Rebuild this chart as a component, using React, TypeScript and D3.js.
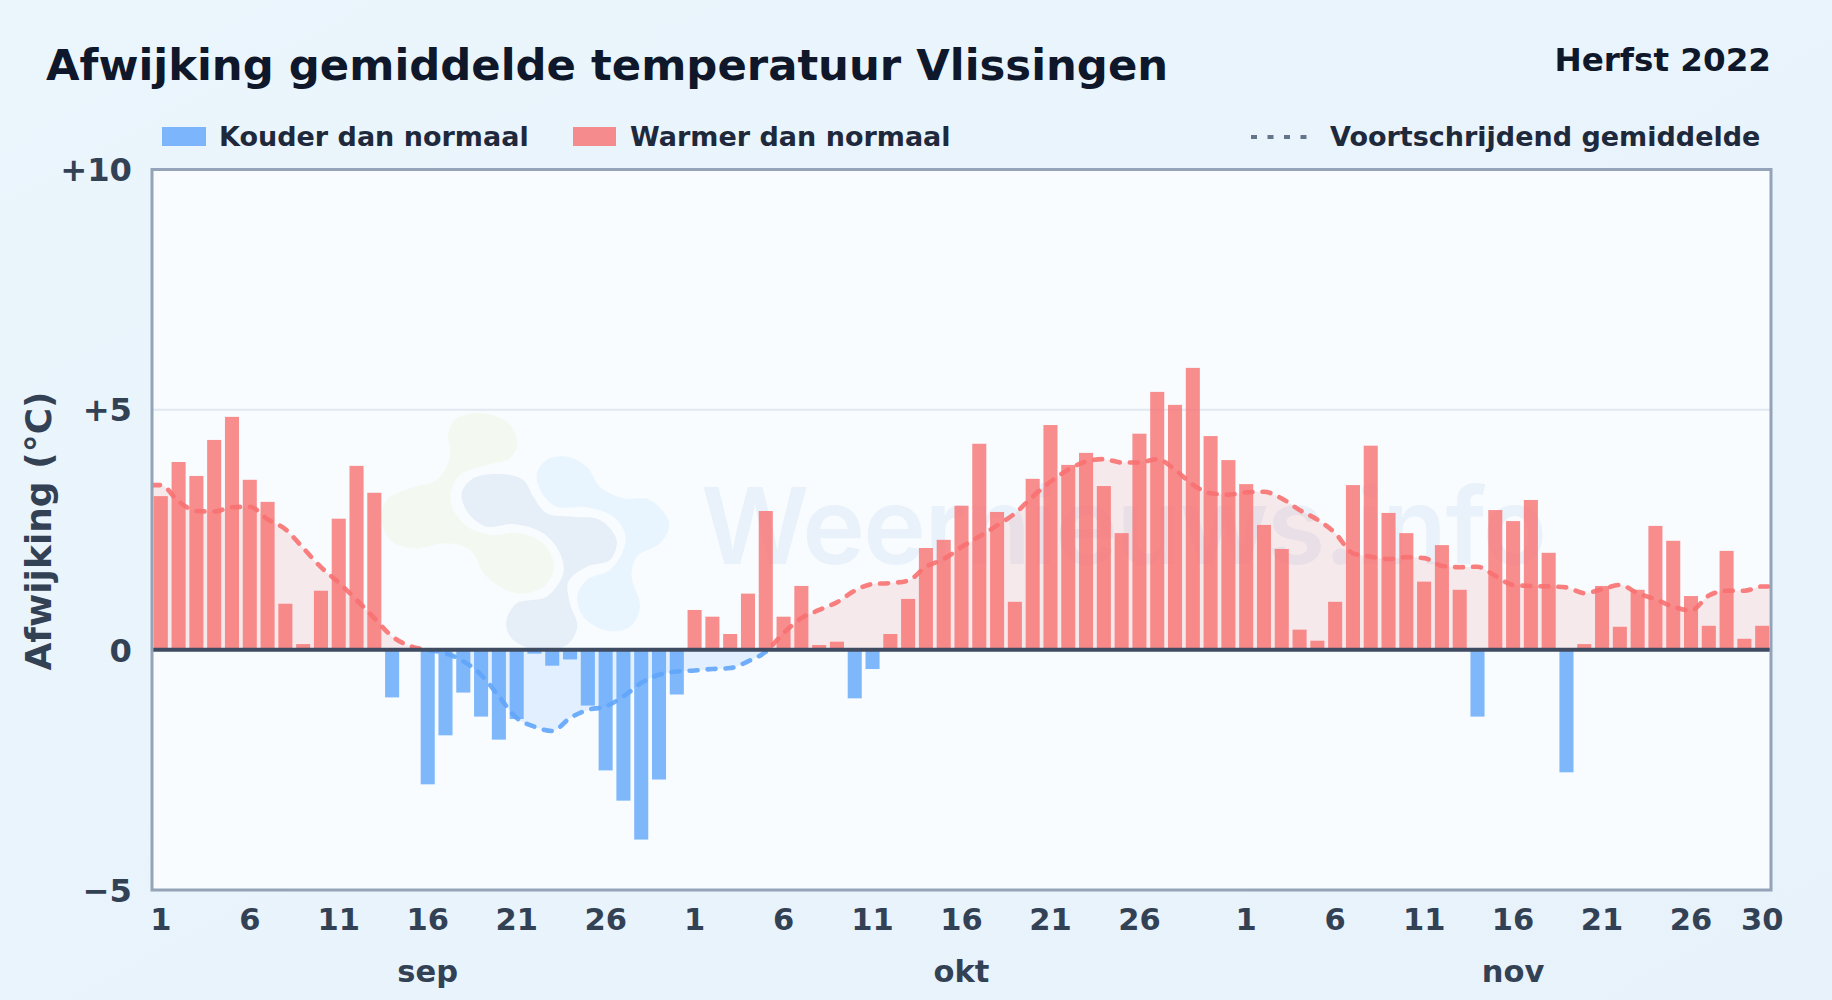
import { useEffect, useRef } from 'react';
import * as d3 from 'd3';

const TITLE = 'Afwijking gemiddelde temperatuur Vlissingen';
const SUBTITLE = 'Herfst 2022';
const Y_LABEL = 'Afwijking (°C)';
const WATERMARK = 'Weernieuws.info';

const MONTHS = ['sep', 'okt', 'nov'];
const MONTH_LENGTHS = [30, 31, 30];
const DAY_TICKS = [1, 6, 11, 16, 21, 26];
const Y_TICKS = [-5, 0, 5, 10];

const ANOMALY_SEP = [3.2, 3.91, 3.62, 4.37, 4.85, 3.54, 3.08, 0.96, 0.12, 1.23, 2.73, 3.83, 3.27, -0.99, 0, -2.8, -1.78, -0.89, -1.39, -1.87, -1.44, -0.08, -0.33, -0.2, -1.16, -2.51, -3.14, -3.95, -2.7, -0.93];
const ANOMALY_OKT = [0.83, 0.69, 0.33, 1.17, 2.89, 0.69, 1.33, 0.1, 0.17, -1.01, -0.4, 0.33, 1.06, 2.12, 2.29, 3.0, 4.29, 2.87, 1.0, 3.56, 4.68, 3.85, 4.1, 3.41, 2.43, 4.5, 5.37, 5.1, 5.87, 4.45, 3.95];
const ANOMALY_NOV = [3.45, 2.6, 2.1, 0.42, 0.19, 1.0, 3.43, 4.25, 2.85, 2.43, 1.42, 2.18, 1.25, -1.39, 2.91, 2.68, 3.12, 2.02, -2.55, 0.12, 1.33, 0.48, 1.25, 2.58, 2.27, 1.12, 0.5, 2.06, 0.23, 0.5];

const AVG_SEP = [3.43, 3.09, 2.89, 2.88, 2.97, 2.98, 2.72, 2.51, 2.12, 1.72, 1.4, 1.04, 0.66, 0.28, 0.08, 0, -0.07, -0.24, -0.52, -0.97, -1.42, -1.6, -1.69, -1.42, -1.25, -1.18, -0.97, -0.69, -0.52, -0.45];
const AVG_OKT = [-0.43, -0.4, -0.38, -0.24, -0.04, 0.35, 0.66, 0.83, 0.99, 1.23, 1.37, 1.39, 1.44, 1.73, 1.89, 2.14, 2.36, 2.59, 2.84, 3.19, 3.5, 3.75, 3.92, 3.97, 3.9, 3.9, 3.97, 3.75, 3.44, 3.26, 3.23];
const AVG_NOV = [3.28, 3.29, 3.15, 2.91, 2.71, 2.43, 2.01, 1.94, 1.89, 1.93, 1.91, 1.75, 1.72, 1.73, 1.54, 1.35, 1.33, 1.32, 1.3, 1.18, 1.26, 1.35, 1.18, 1.05, 0.9, 0.82, 1.13, 1.23, 1.23, 1.32];

// watermark logo outlines, traced by hand
const LOGO_GREEN: [number, number][] = [[205, 100], [210, 170], [170, 240], [90, 265], [20, 300], [5, 360], [30, 420], [100, 445], [200, 430], [270, 450], [320, 530], [410, 580], [490, 560], [522, 500], [490, 430], [410, 398], [340, 405], [270, 385], [220, 330], [212, 280], [240, 225], [320, 195], [390, 175], [412, 125], [380, 65], [300, 40], [230, 55]];
const LOGO_DARK: [number, number][] = [[245, 280], [280, 235], [360, 222], [430, 240], [460, 290], [500, 340], [580, 350], [660, 360], [710, 420], [690, 480], [620, 500], [565, 545], [570, 610], [592, 680], [560, 735], [480, 752], [400, 720], [378, 670], [410, 610], [500, 590], [550, 520], [540, 460], [490, 400], [400, 372], [320, 380], [265, 340]];
const LOGO_BLUE: [number, number][] = [[470, 225], [500, 180], [560, 170], [620, 200], [660, 260], [730, 295], [810, 300], [868, 370], [840, 430], [770, 470], [755, 530], [780, 620], [750, 680], [680, 692], [610, 650], [592, 590], [620, 540], [690, 510], [730, 450], [735, 400], [700, 350], [620, 322], [530, 320], [490, 285]];

const FONT = '"DejaVu Sans", sans-serif';
const RED = '#f87171';
const BLUE = '#60a5fa';

export default function App() {
  const svgRef = useRef<SVGSVGElement>(null);

  useEffect(() => {
    if (!svgRef.current) return;
    const svg = d3.select(svgRef.current);
    svg.selectAll('*').remove();

    const width = 1832;
    const height = 1000;
    const plot = { left: 152, right: 1771, top: 169.5, bottom: 890 };

    const anomalies = [...ANOMALY_SEP, ...ANOMALY_OKT, ...ANOMALY_NOV];
    const averages = [...AVG_SEP, ...AVG_OKT, ...AVG_NOV];
    const dayLabels = MONTH_LENGTHS.flatMap((n) => d3.range(1, n + 1));

    const xScale = d3.scaleBand<number>()
      .domain(d3.range(anomalies.length))
      .range([plot.left, plot.right])
      .paddingInner(0.21)
      .paddingOuter(0.1);
    const yScale = d3.scaleLinear().domain([-5, 10]).range([plot.bottom, plot.top]);
    const center = (i: number) => (xScale(i) ?? 0) + xScale.bandwidth() / 2;

    const defs = svg.append('defs');
    const pageGrad = defs.append('linearGradient').attr('id', 'page-bg')
      .attr('x1', 0).attr('y1', 0).attr('x2', 1).attr('y2', 1);
    pageGrad.append('stop').attr('offset', '0%').attr('stop-color', '#ebf5fc');
    pageGrad.append('stop').attr('offset', '100%').attr('stop-color', '#e7f2fb');

    defs.append('clipPath').attr('id', 'above-zero').append('rect')
      .attr('x', plot.left).attr('y', plot.top)
      .attr('width', plot.right - plot.left).attr('height', yScale(0) - plot.top);
    defs.append('clipPath').attr('id', 'below-zero').append('rect')
      .attr('x', plot.left).attr('y', yScale(0))
      .attr('width', plot.right - plot.left).attr('height', plot.bottom - yScale(0));

    svg.attr('width', width).attr('height', height).attr('viewBox', `0 0 ${width} ${height}`)
      .style('display', 'block').style('font-family', FONT);

    svg.append('rect').attr('width', width).attr('height', height).attr('fill', 'url(#page-bg)');
    svg.append('rect')
      .attr('x', plot.left).attr('y', plot.top)
      .attr('width', plot.right - plot.left).attr('height', plot.bottom - plot.top)
      .attr('fill', '#f8fcff');

    // watermark
    const logo = svg.append('g').attr('transform', 'translate(380, 400) scale(0.3333)');
    const blob = d3.line().curve(d3.curveCatmullRomClosed.alpha(0.5));
    logo.append('path').attr('d', blob(LOGO_GREEN)).attr('fill', '#f3f9f0');
    logo.append('path').attr('d', blob(LOGO_DARK)).attr('fill', '#e6eff8');
    logo.append('path').attr('d', blob(LOGO_BLUE)).attr('fill', '#e8f5fe');
    svg.append('text')
      .attr('x', 701).attr('y', 564)
      .attr('font-size', 106)
      .attr('font-weight', 600)
      .attr('font-family', 'Inter, "DejaVu Sans", sans-serif')
      .attr('textLength', 846)
      .attr('fill', '#3b82c4')
      .attr('fill-opacity', 0.08)
      .text(WATERMARK);

    // +5 gridline
    svg.append('line')
      .attr('x1', plot.left).attr('x2', plot.right)
      .attr('y1', yScale(5)).attr('y2', yScale(5))
      .attr('stroke', '#e2e8f0').attr('stroke-width', 2);

    // moving average: flat out to the plot edges
    const avgPoints: [number, number][] = [
      [plot.left, averages[0]],
      ...averages.map((v, i) => [center(i), v] as [number, number]),
      [plot.right - 2, averages[averages.length - 1]],
    ];
    const area = d3.area<[number, number]>()
      .x((d) => d[0]).y0(yScale(0)).y1((d) => yScale(d[1])).curve(d3.curveMonotoneX);
    const line = d3.line<[number, number]>()
      .x((d) => d[0]).y((d) => yScale(d[1])).curve(d3.curveMonotoneX);

    [
      { clip: 'above-zero', color: RED, fill: '#ef4444', opacity: 0.1 },
      { clip: 'below-zero', color: BLUE, fill: BLUE, opacity: 0.15 },
    ].forEach((s) => {
      const g = svg.append('g').attr('clip-path', `url(#${s.clip})`);
      g.append('path').datum(avgPoints).attr('d', area)
        .attr('fill', s.fill).attr('fill-opacity', s.opacity);
      g.append('path').datum(avgPoints).attr('d', line)
        .attr('fill', 'none')
        .attr('stroke', s.color)
        .attr('stroke-opacity', 0.9)
        .attr('stroke-width', 4.6)
        .attr('stroke-linecap', 'round')
        .attr('stroke-dasharray', '8 10');
    });

    // bars sit on top of the line, slightly see-through
    svg.append('g').selectAll('rect')
      .data(anomalies.map((v, i) => ({ v, i })).filter((d) => d.v !== 0))
      .join('rect')
      .attr('x', (d) => xScale(d.i) ?? 0)
      .attr('y', (d) => (d.v > 0 ? yScale(d.v) : yScale(0)))
      .attr('width', xScale.bandwidth())
      .attr('height', (d) => Math.abs(yScale(d.v) - yScale(0)))
      .attr('fill', (d) => (d.v > 0 ? RED : BLUE))
      .attr('fill-opacity', 0.8);

    // zero line and frame
    svg.append('line')
      .attr('x1', plot.left).attr('x2', plot.right)
      .attr('y1', yScale(0)).attr('y2', yScale(0))
      .attr('stroke', '#3f4b60').attr('stroke-width', 4);
    svg.append('rect')
      .attr('x', plot.left).attr('y', plot.top)
      .attr('width', plot.right - plot.left).attr('height', plot.bottom - plot.top)
      .attr('fill', 'none').attr('stroke', '#94a3b8').attr('stroke-width', 3);

    // axes
    const dayTickIdx = d3.range(anomalies.length)
      .filter((i) => DAY_TICKS.includes(dayLabels[i]) || i === anomalies.length - 1);
    const xAxis = svg.append('g')
      .attr('transform', `translate(0, ${plot.bottom})`)
      .call(d3.axisBottom(xScale).tickValues(dayTickIdx).tickSize(0).tickPadding(0)
        .tickFormat((i) => String(dayLabels[i])));
    xAxis.selectAll('text')
      .attr('y', 39.5).attr('dy', 0)
      .attr('font-family', FONT).attr('font-size', 30.5).attr('font-weight', 700).attr('fill', '#334155');

    const yAxis = svg.append('g')
      .attr('transform', `translate(${plot.left}, 0)`)
      .call(d3.axisLeft(yScale).tickValues(Y_TICKS).tickSize(0).tickPadding(0)
        .tickFormat((v) => (Number(v) > 0 ? `+${v}` : Number(v) < 0 ? `\u2212${Math.abs(Number(v))}` : '0')));
    yAxis.selectAll('text')
      .attr('x', -20).attr('dy', '0.35em')
      .attr('font-family', FONT).attr('font-size', 32.2).attr('font-weight', 700).attr('fill', '#334155');
    svg.selectAll('.domain').remove();

    // month labels
    let start = 0;
    MONTHS.forEach((m, k) => {
      const mid = start + (MONTH_LENGTHS[k] - (MONTH_LENGTHS[k] % 2 ? 1 : 0)) / 2;
      svg.append('text')
        .attr('x', center(mid)).attr('y', 982)
        .attr('text-anchor', 'middle')
        .attr('font-size', 30.5).attr('font-weight', 700).attr('fill', '#334155')
        .text(m);
      start += MONTH_LENGTHS[k];
    });

    svg.append('text')
      .attr('transform', 'translate(51, 531) rotate(-90)')
      .attr('text-anchor', 'middle')
      .attr('font-size', 36).attr('font-weight', 700).attr('fill', '#334155')
      .text(Y_LABEL);

    // header
    svg.append('text').attr('x', 46).attr('y', 80)
      .attr('font-size', 43.35).attr('font-weight', 700).attr('fill', '#0f172a').text(TITLE);
    svg.append('text').attr('x', 1771).attr('y', 71).attr('text-anchor', 'end')
      .attr('font-size', 32.6).attr('font-weight', 700).attr('fill', '#0f172a').text(SUBTITLE);

    // legend
    const legendText = (x: number, label: string) => svg.append('text')
      .attr('x', x).attr('y', 146)
      .attr('font-size', 27).attr('font-weight', 700).attr('fill', '#1e293b').text(label);
    svg.append('rect').attr('x', 162).attr('y', 127).attr('width', 44).attr('height', 19)
      .attr('fill', BLUE).attr('fill-opacity', 0.8);
    legendText(219, 'Kouder dan normaal');
    svg.append('rect').attr('x', 573).attr('y', 127).attr('width', 43).attr('height', 19)
      .attr('fill', RED).attr('fill-opacity', 0.8);
    legendText(630, 'Warmer dan normaal');
    svg.append('line')
      .attr('x1', 1251).attr('x2', 1308).attr('y1', 137).attr('y2', 137)
      .attr('stroke', '#64748b').attr('stroke-width', 4).attr('stroke-dasharray', '6 10.5');
    legendText(1330, 'Voortschrijdend gemiddelde');
  }, []);

  return (
    <div style={{ position: 'absolute', left: 0, top: 0 }}>
      <svg ref={svgRef} />
    </div>
  );
}
